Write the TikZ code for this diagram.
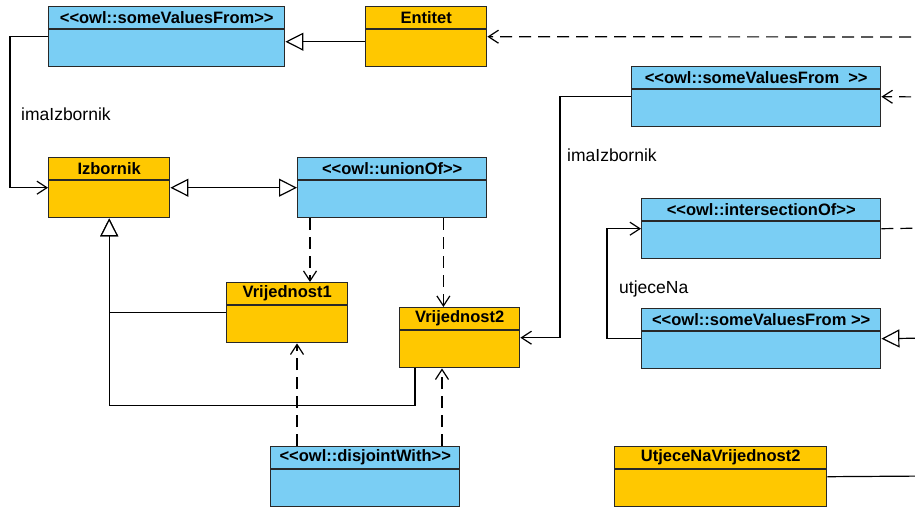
\documentclass[tikz,border=0pt]{standalone}
\usepackage{fontspec}
\setmainfont{Liberation Sans}[Ligatures=TeXOff]
\usetikzlibrary{arrows.meta}

\definecolor{owlblue}{RGB}{122,206,244}
\definecolor{owlorange}{RGB}{255,200,0}
\definecolor{boxline}{RGB}{40,40,40}

\tikzset{
  classbox/.style={draw=boxline, line width=1.4pt, rectangle, anchor=north west,
    inner sep=0pt, minimum height=60pt},
  classtitle/.style={font=\fontsize{16.5}{19}\selectfont\bfseries, inner sep=0pt},
  rolelabel/.style={font=\fontsize{17.5}{20}\selectfont, anchor=west, inner sep=0pt},
  link/.style={line width=1.2pt, black},
  nav/.style={link, -{Straight Barb[length=10pt, width=13pt, line width=1.2pt]}},
  gen/.style={link, -{Triangle[open, length=18pt, width=18pt, fill=white, line width=1.2pt]}},
  dep/.style={link, dash pattern=on 12pt off 7pt},
}

% class box with a header line and its title
\newcommand{\owlbox}[6]{%
  \node[classbox, fill=#5, minimum width=#4pt] (#1) at (#2,#3) {};
  \draw[draw=boxline, line width=1.2pt] ([yshift=-23pt]#1.north west) -- ([yshift=-23pt]#1.north east);
  \node[classtitle] (#1-title) at ([yshift=-11.5pt]#1.north) {#6};
}

\begin{document}
\begin{tikzpicture}[x=1pt, y=-1pt]

    \clip (0,0) rectangle (915,506);

    % Classes on the left
    \owlbox{svfA}{48}{6}{236}{owlblue}{<<owl::someValuesFrom>>}
    \owlbox{entitet}{365}{6}{121}{owlorange}{Entitet}
    \owlbox{izbornik}{48}{157}{121}{owlorange}{Izbornik}
    \owlbox{union}{297}{157}{189}{owlblue}{<<owl::unionOf>>}
    \owlbox{vr1}{226}{282}{121}{owlorange}{Vrijednost1}
    \owlbox{vr2}{399}{307}{120}{owlorange}{Vrijednost2}
    \owlbox{disj}{270}{446}{189}{owlblue}{<<owl::disjointWith>>}

    % Classes on the right
    \owlbox{svfB}{631}{66}{249}{owlblue}{<<owl::someValuesFrom\ \ >>}
    \owlbox{inter}{641}{198}{239}{owlblue}{<<owl::intersectionOf>>}
    \owlbox{svfC}{641}{308}{239}{owlblue}{<<owl::someValuesFrom >>}
    \owlbox{utjV2}{614}{446}{212}{owlorange}{UtjeceNaVrijednost2}

    % Free ends beyond the right border
    \coordinate (outA) at (930,37);
    \coordinate (outB) at (930,97);
    \coordinate (outC) at (930,228);
    \coordinate (outD) at (930,338);
    \coordinate (outE) at (930,476);

    % Role labels
    \node[rolelabel] (roleA) at (21,114) {imaIzbornik};
    \node[rolelabel] (roleB) at (567,155) {imaIzbornik};
    \node[rolelabel] (roleC) at (619,289) {utjeceNa};

    % Top row
    \draw[gen] ([yshift=-5pt]entitet.west) -- ([yshift=-5pt]svfA.east);
    \draw[dep, -{Straight Barb[length=10pt, width=13pt, line width=1.2pt]}] (outA) -- (entitet.east);
    \draw[nav] (svfA.west) -- ++(-38,0) |- (izbornik.west);

    % Izbornik and its values
    \draw[link, {Triangle[open, length=18pt, width=18pt, fill=white, line width=1.2pt]}-{Triangle[open, length=18pt, width=18pt, fill=white, line width=1.2pt]}] (izbornik.east) -- (union.west);
    \draw[dep, -{Straight Barb[length=10pt, width=13pt, line width=1.2pt]}] ([xshift=13pt]union.south west) -- ([xshift=13pt]union.south west |- vr1.north);
    \draw[dep, -{Straight Barb[length=10pt, width=13pt, line width=1.2pt]}] ([xshift=-44pt]union.south east) -- ([xshift=-44pt]union.south east |- vr2.north);
    \draw[gen] (vr1.west) -| (izbornik.south);
    \draw[gen] ([xshift=16pt]vr2.south west) -- ++(0,37) -| (izbornik.south);

    % disjointWith
    \draw[dep, -{Straight Barb[length=10pt, width=13pt, line width=1.2pt]}] ([xshift=27pt]disj.north west) -- ([xshift=27pt]disj.north west |- vr1.south);
    \draw[dep, -{Straight Barb[length=10pt, width=13pt, line width=1.2pt]}] ([xshift=172pt]disj.north west) -- ([xshift=172pt]disj.north west |- vr2.south);

    % Right side
    \draw[nav] (svfB.west) -- ++(-71,0) |- (vr2.east);
    \draw[dep, -{Straight Barb[length=10pt, width=13pt, line width=1.2pt]}] (outB) -- (svfB.east);
    \draw[dep] (inter.east) -- (outC);
    \draw[nav] (svfC.west) -- ++(-34,0) |- (inter.west);
    \draw[gen] (outD) -- (svfC.east);
    \draw[link] (utjV2.east) -- (outE);

\end{tikzpicture}
\end{document}
